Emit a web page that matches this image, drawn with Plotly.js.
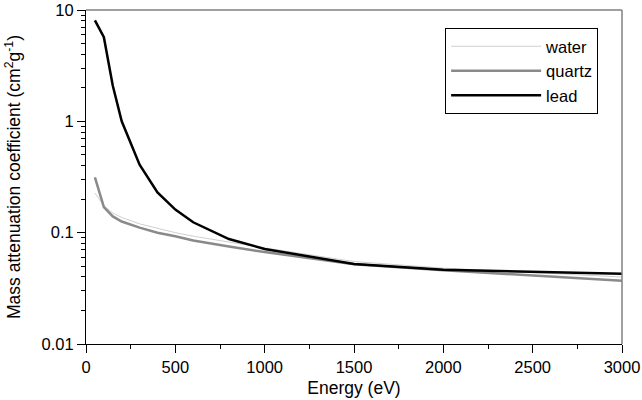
<!DOCTYPE html>
<html>
<head>
<meta charset="utf-8">
<script src="https://cdn.plot.ly/plotly-3.0.1.min.js"></script>
<style>
  html, body { margin: 0; padding: 0; background: #fff; }
  #chart { width: 642px; height: 400px; }
</style>
</head>
<body>
<div id="chart"></div>
<script>
// energies (eV) and mass attenuation coefficients (cm2/g)
var energy = [50, 100, 150, 200, 300, 400, 500, 600, 800, 1000, 1500, 2000, 3000];
var water  = [0.227, 0.175, 0.150, 0.137, 0.120, 0.109, 0.100, 0.093, 0.082, 0.073, 0.055, 0.048, 0.040];
var quartz = [0.314, 0.170, 0.140, 0.126, 0.111, 0.100, 0.093, 0.085, 0.075, 0.067, 0.052, 0.046, 0.037];
var lead   = [8.08, 5.69, 2.09, 1.00, 0.408, 0.230, 0.161, 0.124, 0.0877, 0.0714, 0.0523, 0.0465, 0.0428];

var font = { family: 'Liberation Sans, Arial, sans-serif', size: 16.5, color: '#000' };
var titleFont = { family: 'Liberation Sans, Arial, sans-serif', size: 17.5, color: '#000' };

var traces = [
    { x: energy, y: water, name: 'water', mode: 'lines',
      line: { color: '#cfcfcf', width: 1 } },
    { x: energy, y: quartz, name: 'quartz', mode: 'lines',
      line: { color: '#8a8a8a', width: 2.5 } },
    { x: energy, y: lead, name: 'lead', mode: 'lines',
      line: { color: '#000', width: 2.5 } }
];

var layout = {
    width: 642,
    height: 400,
    margin: { l: 86, r: 20, t: 10, b: 56 },
    paper_bgcolor: '#fff',
    plot_bgcolor: '#fff',
    font: font,
    showlegend: true,
    legend: {
        x: 0.67, y: 0.946, xanchor: 'left', yanchor: 'top',
        bordercolor: '#000', borderwidth: 1, bgcolor: '#fff',
        font: font, tracegroupgap: 0, itemwidth: 90
    },
    xaxis: {
        range: [0, 3000], dtick: 500, tick0: 0,
        showgrid: false, zeroline: false,
        showline: true, linecolor: '#000', linewidth: 1,
        ticks: 'outside', ticklen: 8, tickcolor: '#000',
        minor: { dtick: 250, ticks: 'outside', ticklen: 4, tickcolor: '#000', showgrid: false },
        tickfont: font,
        title: { text: 'Energy (eV)', font: titleFont, standoff: 6 }
    },
    yaxis: {
        type: 'log', range: [-2, 1], dtick: 1,
        showgrid: false, zeroline: false,
        showline: true, linecolor: '#000', linewidth: 1,
        ticks: 'outside', ticklen: 8, tickcolor: '#000',
        minor: { ticks: 'outside', ticklen: 4, tickcolor: '#000', showgrid: false },
        tickfont: font,
        title: { text: 'Mass attenuation coefficient (cm<sup>2</sup>g<sup>-1</sup>)', font: titleFont, standoff: 16 }
    },
    shapes: [
        { type: 'line', xref: 'paper', yref: 'paper', x0: 0, x1: 1, y0: 1, y1: 1,
          line: { color: '#808080', width: 1.5 } },
        { type: 'line', xref: 'paper', yref: 'paper', x0: 1, x1: 1, y0: 0, y1: 1,
          line: { color: '#808080', width: 1.5 } }
    ]
};

Plotly.newPlot('chart', traces, layout, { staticPlot: true });
</script>
</body>
</html>
